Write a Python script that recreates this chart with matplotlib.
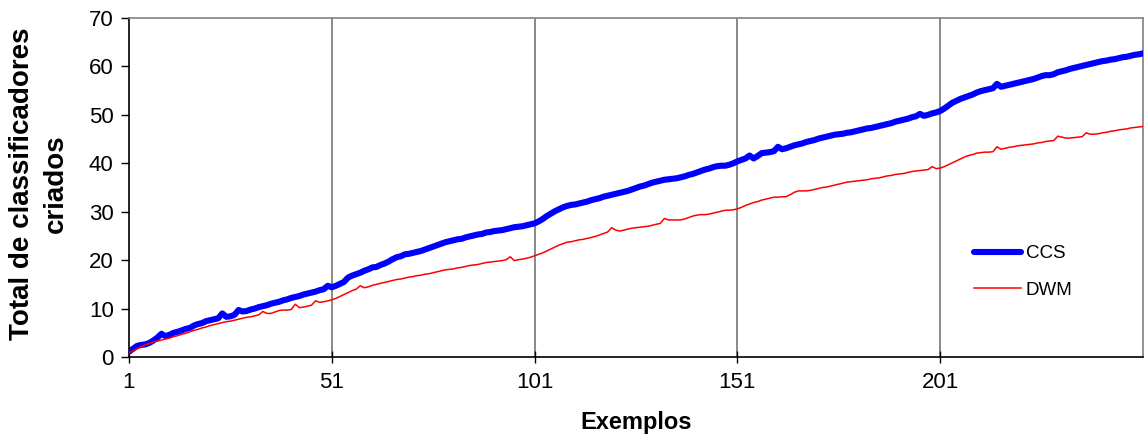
import matplotlib
matplotlib.use("Agg")
import matplotlib.pyplot as plt
import numpy as np

# Total number of classifiers created after each example
ccs = [
    1.1, 1.7, 2.3, 2.5, 2.6, 2.9, 3.4, 4.0, 4.8, 4.3,
    4.6, 5.0, 5.2, 5.5, 5.8, 6.0, 6.5, 6.8, 7.0, 7.4,
    7.6, 7.8, 8.0, 9.0, 8.3, 8.4, 8.7, 9.7, 9.4, 9.5,
    9.8, 10.0, 10.3, 10.5, 10.7, 11.0, 11.2, 11.4, 11.7, 11.9,
    12.2, 12.4, 12.6, 12.9, 13.1, 13.3, 13.5, 13.8, 14.0, 14.7,
    14.4, 14.7, 15.1, 15.5, 16.4, 16.8, 17.1, 17.4, 17.8, 18.1,
    18.5, 18.6, 19.0, 19.3, 19.7, 20.2, 20.6, 20.8, 21.2, 21.3,
    21.5, 21.7, 21.9, 22.2, 22.5, 22.8, 23.1, 23.4, 23.7, 23.9,
    24.1, 24.3, 24.4, 24.7, 24.9, 25.1, 25.3, 25.4, 25.7, 25.8,
    26.0, 26.1, 26.2, 26.4, 26.6, 26.8, 26.9, 27.0, 27.2, 27.4,
    27.6, 28.0, 28.5, 29.1, 29.6, 30.1, 30.5, 30.9, 31.2, 31.4,
    31.5, 31.7, 31.9, 32.1, 32.4, 32.6, 32.8, 33.1, 33.3, 33.5,
    33.7, 33.9, 34.1, 34.3, 34.6, 34.9, 35.2, 35.4, 35.7, 36.0,
    36.2, 36.4, 36.6, 36.7, 36.8, 36.9, 37.1, 37.3, 37.6, 37.8,
    38.1, 38.4, 38.7, 38.9, 39.2, 39.4, 39.5, 39.5, 39.7, 40.0,
    40.4, 40.7, 41.0, 41.6, 41.0, 41.5, 42.1, 42.2, 42.3, 42.5,
    43.4, 42.9, 43.1, 43.4, 43.7, 43.9, 44.1, 44.4, 44.6, 44.8,
    45.1, 45.3, 45.5, 45.7, 45.9, 46.0, 46.1, 46.3, 46.4, 46.6,
    46.8, 47.0, 47.2, 47.3, 47.5, 47.7, 47.9, 48.1, 48.3, 48.6,
    48.8, 49.0, 49.2, 49.5, 49.7, 50.2, 49.8, 50.0, 50.3, 50.5,
    50.8, 51.3, 51.9, 52.5, 52.9, 53.3, 53.6, 53.9, 54.2, 54.6,
    54.9, 55.1, 55.3, 55.5, 56.4, 55.8, 56.0, 56.2, 56.4, 56.6,
    56.8, 57.0, 57.2, 57.4, 57.7, 58.0, 58.2, 58.2, 58.4, 58.8,
    59.0, 59.2, 59.5, 59.7, 59.9, 60.1, 60.3, 60.5, 60.7, 60.9,
    61.1, 61.2, 61.4, 61.5, 61.7, 61.9, 62.0, 62.2, 62.4, 62.5,
    62.7,
]

dwm = [
    0.9, 1.3, 1.7, 2.1, 2.5, 2.8, 3.1, 3.3, 3.5, 3.7,
    3.9, 4.2, 4.4, 4.7, 4.9, 5.2, 5.5, 5.7, 6.0, 6.2,
    6.5, 6.7, 6.9, 7.1, 7.3, 7.4, 7.6, 7.8, 8.0, 8.2,
    8.3, 8.5, 8.7, 9.4, 9.0, 9.0, 9.3, 9.6, 9.7, 9.7,
    9.8, 10.9, 10.2, 10.3, 10.5, 10.7, 11.6, 11.3, 11.4, 11.6,
    11.8, 12.1, 12.5, 12.9, 13.3, 13.7, 14.0, 14.7, 14.3, 14.5,
    14.8, 15.0, 15.2, 15.4, 15.6, 15.8, 16.0, 16.1, 16.3, 16.5,
    16.6, 16.8, 16.9, 17.1, 17.2, 17.4, 17.6, 17.8, 18.0, 18.1,
    18.2, 18.4, 18.5, 18.7, 18.9, 19.0, 19.1, 19.3, 19.5, 19.6,
    19.7, 19.8, 19.9, 20.1, 20.7, 19.9, 20.1, 20.2, 20.4, 20.6,
    20.9, 21.2, 21.5, 21.9, 22.3, 22.7, 23.1, 23.4, 23.7, 23.8,
    24.0, 24.2, 24.3, 24.5, 24.7, 24.9, 25.2, 25.5, 25.8, 26.7,
    26.2, 26.0, 26.2, 26.4, 26.6, 26.7, 26.8, 26.9, 27.0, 27.2,
    27.4, 27.6, 28.6, 28.3, 28.3, 28.3, 28.3, 28.5, 28.8, 29.1,
    29.3, 29.4, 29.4, 29.5, 29.7, 29.9, 30.1, 30.3, 30.3, 30.4,
    30.6, 30.9, 31.3, 31.6, 31.9, 32.1, 32.4, 32.6, 32.8, 33.0,
    33.0, 33.1, 33.1, 33.5, 34.0, 34.3, 34.3, 34.3, 34.4, 34.6,
    34.8, 35.0, 35.1, 35.3, 35.5, 35.7, 35.9, 36.1, 36.2, 36.3,
    36.4, 36.5, 36.6, 36.8, 36.9, 37.0, 37.2, 37.4, 37.5, 37.7,
    37.8, 37.9, 38.1, 38.3, 38.4, 38.5, 38.6, 38.7, 39.3, 38.9,
    39.0, 39.3, 39.7, 40.1, 40.5, 40.9, 41.3, 41.6, 41.8, 42.1,
    42.2, 42.3, 42.3, 42.4, 43.4, 42.9, 43.1, 43.3, 43.4, 43.6,
    43.7, 43.8, 43.9, 44.0, 44.2, 44.3, 44.5, 44.6, 44.7, 45.6,
    45.4, 45.2, 45.2, 45.3, 45.4, 45.5, 46.3, 46.0, 46.0, 46.1,
    46.3, 46.4, 46.6, 46.7, 46.9, 47.0, 47.1, 47.3, 47.4, 47.5,
    47.6,
]

x_ticks = [1, 51, 101, 151, 201]
y_ticks = [0, 10, 20, 30, 40, 50, 60, 70]
series_names = ["CCS", "DWM"]

plt.rcParams["font.family"] = ["Liberation Sans", "DejaVu Sans"]

W, H = 1144, 444
fig = plt.figure(figsize=(W / 100, H / 100), dpi=100)
ax = fig.add_axes([129 / W, 1 - 357 / H, (1143 - 129) / W, (357 - 18) / H])

examples = np.arange(1, len(ccs) + 1)

# vertical gridlines at the labelled categories
for xv in x_ticks[1:]:
    ax.axvline(xv, color="#808080", lw=1.3, zorder=1)

ax.plot(examples, ccs, color="#0000FF", lw=4.4, solid_capstyle="round",
        solid_joinstyle="round", label=series_names[0], zorder=3)
ax.plot(examples, dwm, color="#FF0000", lw=1.1, label=series_names[1], zorder=4)

ax.set_xlim(1, len(ccs))
ax.set_ylim(0, 70)
ax.set_xticks(x_ticks)
ax.set_yticks(y_ticks)
ax.tick_params(axis="x", direction="inout", length=9, width=1, labelsize=16, pad=6)
ax.tick_params(axis="y", direction="out", length=6, width=1, labelsize=16, pad=5)

for side in ("left", "bottom"):
    ax.spines[side].set_color("black")
    ax.spines[side].set_linewidth(1.2)
for side in ("top", "right"):
    ax.spines[side].set_color("#808080")
    ax.spines[side].set_linewidth(1.2)

ax.set_xlabel("Exemplos", fontsize=17, fontweight="bold", labelpad=13)
fig.text(22 / W, 1 - 184 / H, "Total de classificadores", rotation=90,
         fontsize=20, fontweight="bold", ha="center", va="center")
fig.text(56 / W, 1 - 184 / H, "criados", rotation=90,
         fontsize=20, fontweight="bold", ha="center", va="center")

leg = ax.legend(loc="center left", bbox_to_anchor=(974 / W, 1 - 272 / H),
                bbox_transform=fig.transFigure, frameon=False, fontsize=13.5,
                handlelength=2.5, handletextpad=0.25, labelspacing=1.05,
                borderpad=0, borderaxespad=0)

fig.savefig("out.png", dpi=100)
